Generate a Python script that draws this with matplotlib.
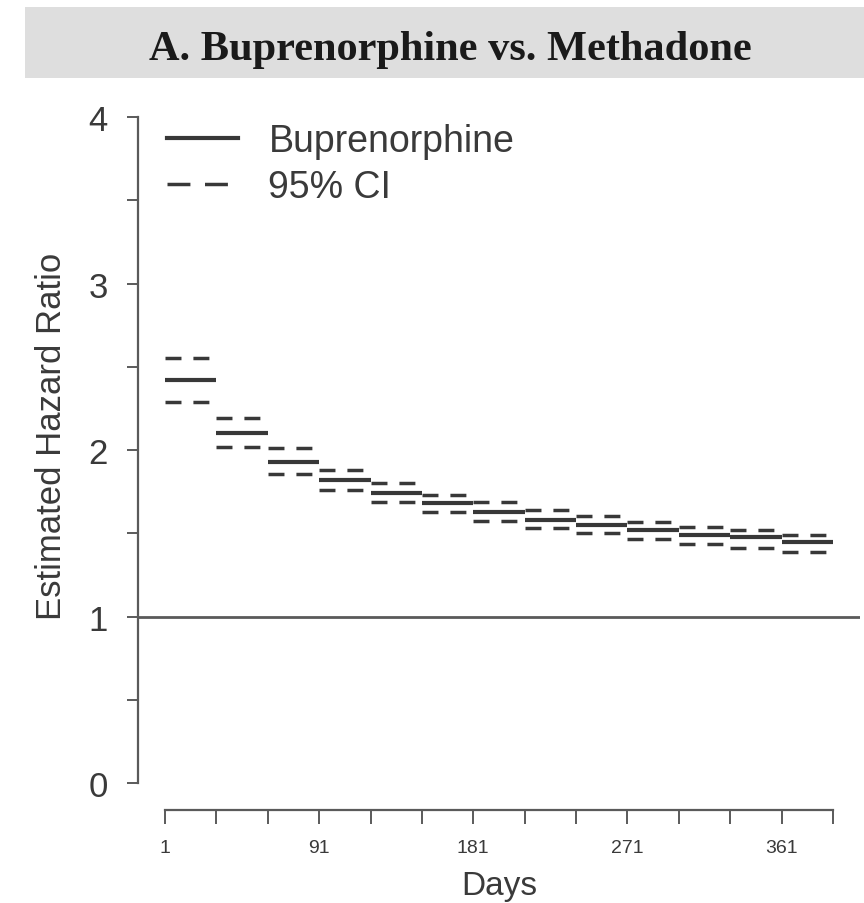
import matplotlib
matplotlib.use("Agg")
import matplotlib.pyplot as plt
from matplotlib.lines import Line2D
from matplotlib.patches import Rectangle

plt.rcParams['font.family'] = ['Liberation Sans', 'DejaVu Sans']
plt.rcParams['lines.scale_dashes'] = False

# step boundaries (days) and estimated hazard ratios per 30-day interval
day_breaks = [1, 31, 61, 91, 121, 151, 181, 211, 241, 271, 301, 331, 361, 391]
hr = [2.42, 2.10, 1.93, 1.82, 1.74, 1.68, 1.63, 1.58, 1.55, 1.52, 1.49, 1.475, 1.445]
ci_upper = [2.55, 2.19, 2.01, 1.88, 1.80, 1.73, 1.69, 1.64, 1.605, 1.565, 1.54, 1.52, 1.49]
ci_lower = [2.29, 2.02, 1.855, 1.76, 1.69, 1.625, 1.575, 1.53, 1.50, 1.465, 1.435, 1.41, 1.385]

x_ticks = list(range(1, 392, 30))
x_labels = ['1', '91', '181', '271', '361']
y_ticks = [0, 0.5, 1, 1.5, 2, 2.5, 3, 3.5, 4]

line_col = '#383838'
axis_col = '#5a5a5a'
text_col = '#3a3a3a'
dash = (0, (11.5, 8.6))

fig = plt.figure(figsize=(8.64, 9.04), dpi=100)

# grey title banner
fig.patches.append(Rectangle((25 / 864, 1 - 79 / 904), 1, 71 / 904,
                             transform=fig.transFigure, facecolor='#dedede',
                             edgecolor='none', zorder=0))
fig.text(450 / 864, 1 - 50 / 904, 'A. Buprenorphine vs. Methadone',
         family='Liberation Serif', weight='bold', fontsize=30.5,
         color='#1a1a1a', ha='center', va='center')

ax = fig.add_axes([138.3 / 864, 1 - 810.7 / 904, 721.4 / 864, 719.3 / 904])
ax.set_xlim(-14.6, 406.6)
ax.set_ylim(-0.16, 4.16)

starts = day_breaks[:-1]
ends = day_breaks[1:]
ax.hlines(hr, starts, ends, colors=line_col, linewidth=3.0, zorder=3)
ax.hlines(ci_upper, starts, ends, colors=line_col, linewidth=2.5, linestyles=[dash], zorder=3)
ax.hlines(ci_lower, starts, ends, colors=line_col, linewidth=2.5, linestyles=[dash], zorder=3)

ax.axhline(1, color=axis_col, linewidth=2.0, zorder=2)

# R style axes
for s in ['top', 'right']:
    ax.spines[s].set_visible(False)
ax.spines['left'].set_bounds(0, 4)
ax.spines['bottom'].set_bounds(1, 391)
for s in ['left', 'bottom']:
    ax.spines[s].set_color(axis_col)
    ax.spines[s].set_linewidth(1.6)

ax.set_xticks(x_ticks)
ax.set_xticklabels([str(t) if str(t) in x_labels else '' for t in x_ticks])
ax.set_yticks(y_ticks)
ax.set_yticklabels([str(int(t)) if t == int(t) else '' for t in y_ticks])
ax.tick_params(axis='x', length=10, width=1.4, color=axis_col, labelsize=14,
               labelcolor=text_col, pad=11)
ax.tick_params(axis='y', length=8, width=1.4, color=axis_col, labelsize=25,
               labelcolor=text_col, pad=14)

ax.set_xlabel('Days', fontsize=24, color=text_col, labelpad=10)
ax.set_ylabel('Estimated Hazard Ratio', fontsize=25, color=text_col)
ax.yaxis.set_label_coords(-0.097, 0.52)

handles = [Line2D([], [], color=line_col, linewidth=3.0),
           Line2D([], [], color=line_col, linewidth=2.5, linestyle=(0, (16.5, 10.5)))]
ax.legend(handles, ['Buprenorphine', '95% CI'], loc='upper left',
          bbox_to_anchor=(0.04, 0.955), frameon=False, fontsize=27,
          handlelength=1.9, handletextpad=0.8, labelspacing=0.28,
          borderaxespad=0, borderpad=0, labelcolor=text_col)

fig.savefig('out.png', dpi=100)
